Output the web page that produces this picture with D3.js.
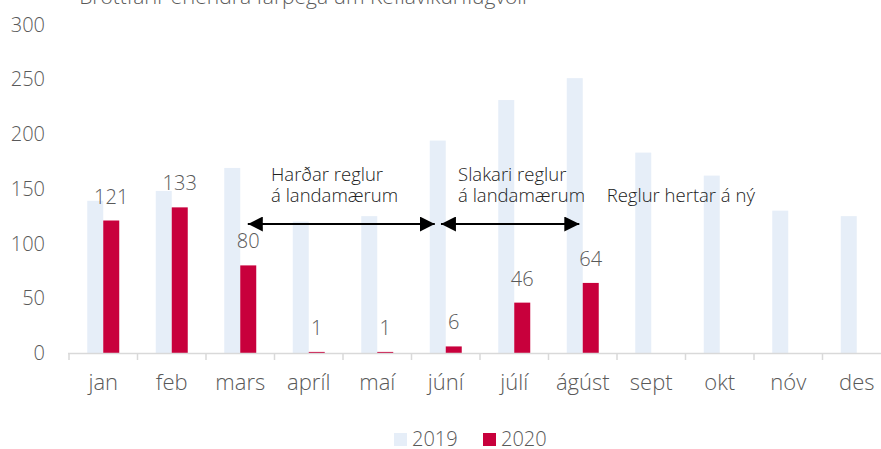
<!DOCTYPE html>
<html>
<head>
<meta charset="utf-8">
<script src="https://cdn.jsdelivr.net/npm/d3@7"></script>
<style>
  body { margin: 0; background: #fff; }
  svg { display: block; font-family: "Open Sans", sans-serif; font-weight: 300; }
</style>
</head>
<body>
<svg id="chart" width="881" height="449"></svg>
<script>
const months = ["jan", "feb", "mars", "apríl", "maí", "júní", "júlí", "ágúst", "sept", "okt", "nóv", "des"];
const series = ["2019", "2020"];
const values2019 = [139, 148, 169, 120, 125, 194, 231, 251, 183, 162, 130, 125];
const values2020 = [121, 133, 80, 1, 1, 6, 46, 64, null, null, null, null];
const yTicks = [0, 50, 100, 150, 200, 250, 300];
const title = "Brottfarir erlendra farþega um Keflavíkurflugvöll";

// arrows: from month + fraction of step, to month + fraction of step
const arrows = [
  { from: "mars", fromOff: 0.61, to: "júní", toOff: 0.34 },
  { from: "júní", fromOff: 0.43, to: "ágúst", toOff: 0.45 }
];
// annotation lines (line 0 = upper row, line 1 = lower row)
const notes = [
  { month: "mars", off: 0.95, row: 0, text: "Harðar reglur" },
  { month: "mars", off: 0.95, row: 1, text: "á landamærum" },
  { month: "júní", off: 0.68, row: 0, text: "Slakari reglur" },
  { month: "júní", off: 0.68, row: 1, text: "á landamærum" },
  { month: "sept", off: -0.15, row: 1, text: "Reglur hertar á ný" }
];

const colors = { "2019": "#e6eef8", "2020": "#c8003c" };
const textColor = "#595959";

const svg = d3.select("#chart");

const x = d3.scaleBand()
  .domain(months)
  .range([69, 891])
  .paddingInner(0.533)
  .paddingOuter(0.2665);

const xs = d3.scaleBand().domain(series).range([0, x.bandwidth()]);

const y = d3.scaleLinear().domain([0, 300]).range([353, 24.5]);

const bandStart = m => x(m) - (x.step() - x.bandwidth()) / 2;

// title (cut off at top as in original)
svg.append("text")
  .attr("x", 303)
  .attr("y", 4)
  .attr("text-anchor", "middle")
  .attr("fill", textColor)
  .style("font-size", "21px")
  .text(title);

// y tick labels
svg.append("g")
  .selectAll("text")
  .data(yTicks)
  .join("text")
  .attr("x", 45)
  .attr("y", d => y(d))
  .attr("dy", "0.35em")
  .attr("text-anchor", "end")
  .attr("fill", textColor)
  .style("font-size", "20px")
  .text(d => d);

// bars
const groups = svg.append("g")
  .selectAll("g")
  .data(months)
  .join("g")
  .attr("transform", m => `translate(${x(m)},0)`);

groups.append("rect")
  .attr("x", xs("2019"))
  .attr("width", xs.bandwidth())
  .attr("y", (m, i) => y(values2019[i]))
  .attr("height", (m, i) => y(0) - y(values2019[i]))
  .attr("fill", colors["2019"]);

const has2020 = groups.filter((m, i) => values2020[i] != null);

has2020.append("rect")
  .attr("x", xs("2020"))
  .attr("width", xs.bandwidth())
  .attr("y", m => y(values2020[months.indexOf(m)]))
  .attr("height", m => y(0) - y(values2020[months.indexOf(m)]))
  .attr("fill", colors["2020"]);

has2020.append("text")
  .attr("x", xs("2020") + xs.bandwidth() / 2)
  .attr("y", m => y(values2020[months.indexOf(m)]) - 17)
  .attr("text-anchor", "middle")
  .attr("fill", textColor)
  .style("font-size", "20px")
  .text(m => values2020[months.indexOf(m)]);

// x axis
const axis = svg.append("g");
axis.append("line")
  .attr("x1", 68).attr("x2", 881)
  .attr("y1", y(0) + 0.5).attr("y2", y(0) + 0.5)
  .attr("stroke", "#d9d9d9")
  .attr("stroke-width", 1.5);

axis.selectAll(".tick")
  .data(months)
  .join("line")
  .attr("class", "tick")
  .attr("x1", m => bandStart(m)).attr("x2", m => bandStart(m))
  .attr("y1", y(0)).attr("y2", y(0) + 7)
  .attr("stroke", "#d9d9d9")
  .attr("stroke-width", 1.5);

axis.selectAll(".lbl")
  .data(months)
  .join("text")
  .attr("class", "lbl")
  .attr("x", m => x(m) + x.bandwidth() / 2)
  .attr("y", 390)
  .attr("text-anchor", "middle")
  .attr("fill", textColor)
  .style("font-size", "22px")
  .text(m => m);

// arrows
svg.append("defs").append("marker")
  .attr("id", "head")
  .attr("viewBox", "0 0 15 15")
  .attr("refX", 15).attr("refY", 7.5)
  .attr("markerWidth", 15).attr("markerHeight", 15)
  .attr("markerUnits", "userSpaceOnUse")
  .attr("orient", "auto-start-reverse")
  .append("path")
  .attr("d", "M0,0 L15,7.5 L0,15 Z")
  .attr("fill", "#000");

svg.append("g")
  .selectAll("line")
  .data(arrows)
  .join("line")
  .attr("x1", d => bandStart(d.from) + d.fromOff * x.step())
  .attr("x2", d => bandStart(d.to) + d.toOff * x.step())
  .attr("y1", 224).attr("y2", 224)
  .attr("stroke", "#000")
  .attr("stroke-width", 2)
  .attr("marker-start", "url(#head)")
  .attr("marker-end", "url(#head)");

// annotation text
svg.append("g")
  .selectAll("text")
  .data(notes)
  .join("text")
  .attr("x", d => bandStart(d.month) + d.off * x.step())
  .attr("y", d => 181 + d.row * 20.5)
  .attr("fill", "#222")
  .style("font-size", "18.5px")
  .text(d => d.text);

// legend
const legend = svg.append("g")
  .selectAll("g")
  .data(series)
  .join("g")
  .attr("transform", (d, i) => `translate(${394 + i * 89},433)`);

legend.append("rect")
  .attr("width", 13).attr("height", 13)
  .attr("fill", d => colors[d]);

legend.append("text")
  .attr("x", 18).attr("y", 13)
  .attr("fill", textColor)
  .style("font-size", "20px")
  .text(d => d);
</script>
</body>
</html>
